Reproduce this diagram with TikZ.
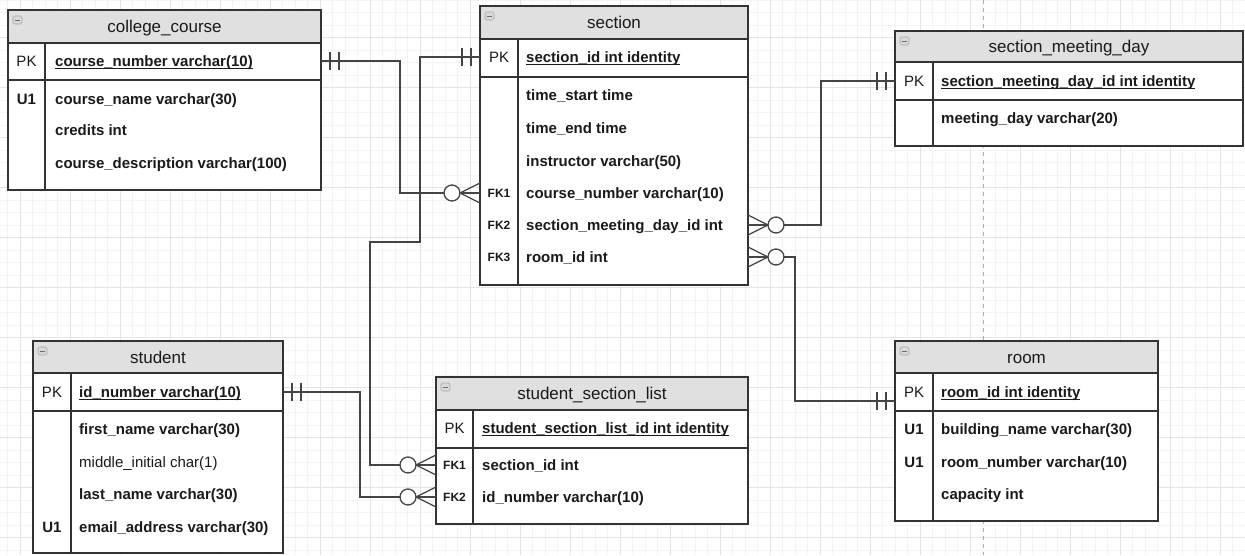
\documentclass[tikz,border=0pt]{standalone}
\usepackage{fontspec}
\setmainfont{Liberation Sans}
\usetikzlibrary{fit}
\definecolor{hdrc}{HTML}{E0E0E0}
\definecolor{linec}{HTML}{333333}
\definecolor{connc}{HTML}{444444}
\definecolor{txtc}{HTML}{1A1A1A}
\definecolor{minorc}{HTML}{F4F4F4}
\definecolor{majorc}{HTML}{E4E4E4}
\definecolor{pagec}{HTML}{B0B0B0}
\newcommand\pkul[1]{\setbox0\hbox{#1}\rlap{\vrule height -1.6pt depth 2.6pt width \wd0}\box0}
\tikzset{
  tline/.style={draw=linec, line width=1.3pt},
  conn/.style={draw=connc, line width=1.3pt},
  tblbg/.style={fill=white, inner sep=0pt, outer sep=0pt},
  ttl/.style={font=\fontsize{17}{20}\selectfont, text=txtc, inner sep=0pt, text height=12pt, text depth=0pt},
  fld/.style={font=\fontsize{15}{18}\selectfont\bfseries, text=txtc, anchor=west, inner sep=0pt, text height=11pt, text depth=0pt},
  fldr/.style={fld, font=\fontsize{15}{18}\selectfont},
  keyl/.style={font=\fontsize{15}{18}\selectfont, text=txtc, inner sep=0pt, text height=11pt, text depth=0pt},
  keyb/.style={keyl, font=\fontsize{15}{18}\selectfont\bfseries},
  keyf/.style={keyl, font=\fontsize{12}{14}\selectfont\bfseries, text height=8.6pt},
  iconbox/.style={draw=gray!70, fill=gray!30, rounded corners=1.5pt, line width=0.6pt},
}
% name, x1, y1, x2, y2, header bottom, pk bottom, divider x, title
\newcommand\ertable[9]{%
  \node[tblbg, fit={(#2,#3) (#4,#5)}] (#1) {};
  \fill[hdrc] (#2,#3) rectangle (#4,#6);
  \draw[tline] (#2,#6) -- (#4,#6) (#2,#7) -- (#4,#7) (#8,#6) -- (#8,#5);
  \draw[tline] (#1.north west) rectangle (#1.south east);
  \node[ttl] (#1-title) at ({(#2+#4)/2},{(#3+#6)/2}) {#9};
  \draw[iconbox] (#2+5,#3+6) rectangle (#2+14,#3+14);
  \draw[gray!85!black, line width=0.8pt] (#2+7,#3+10) -- (#2+12,#3+10);
}
\newcommand\onebars[2]{%
  \begin{scope}[shift={(#1)}, xscale=#2]
    \draw[conn] (9,-9) -- (9,9) (18,-9) -- (18,9);
  \end{scope}}
\newcommand\crowfoot[2]{%
  \begin{scope}[shift={(#1)}, xscale=#2]
    \draw[conn] (0,-10) -- (20,0) -- (0,10);
    \draw[conn, fill=white] (28,0) circle[radius=8pt];
  \end{scope}}
\begin{document}
\begin{tikzpicture}[x=1pt, y=-1pt]
\useasboundingbox (0,0) rectangle (1245,555);
\fill[white] (0,0) rectangle (1245,555);
% grid
\foreach \i in {0,...,99} {\draw[minorc, line width=0.6pt] ({7.5+12.5*\i},0) -- ++(0,555);}
\foreach \j in {0,...,44} {\draw[minorc, line width=0.6pt] (0,{12.5*\j}) -- ++(1245,0);}
\foreach \i in {0,...,24} {\draw[majorc, line width=0.7pt] ({20+50*\i},0) -- ++(0,555);}
\foreach \j in {0,...,10} {\draw[majorc, line width=0.7pt] (0,{37.5+50*\j}) -- ++(1245,0);}
\draw[pagec, line width=0.8pt, dash pattern=on 4pt off 4pt] (983,0) -- (983,555);

% college_course
\ertable{cc}{8}{10}{321}{190}{43}{80}{45}{college\_course}
\node[keyl] (cc-k1) at (26.5,61) {PK};
\node[fld] (ccpk) at (55,61) {\pkul{course\_number varchar(10)}};
\node[keyb] (cc-k2) at (26.5,99) {U1};
\node[fld] (cc-f1) at (55,99) {course\_name varchar(30)};
\node[fld] (cc-f2) at (55,130) {credits int};
\node[fld] (cc-f3) at (55,163) {course\_description varchar(100)};

% section
\ertable{sec}{480}{6}{748}{285}{39}{77}{518}{section}
\node[keyl] (sec-k0) at (499,57) {PK};
\node[fld] (secpk) at (526,57) {\pkul{section\_id int identity}};
\node[fld] (sec-f1) at (526,95) {time\_start time};
\node[fld] (sec-f2) at (526,128) {time\_end time};
\node[fld] (sec-f3) at (526,161) {instructor varchar(50)};
\node[keyf] (sec-k1) at (499,193) {FK1};
\node[fld] (secfk1) at (526,193) {course\_number varchar(10)};
\node[keyf] (sec-k2) at (499,225) {FK2};
\node[fld] (secfk2) at (526,225) {section\_meeting\_day\_id int};
\node[keyf] (sec-k3) at (499,257) {FK3};
\node[fld] (secfk3) at (526,257) {room\_id int};

% section_meeting_day
\ertable{smd}{895}{31}{1243}{146}{62}{100}{933}{section\_meeting\_day}
\node[keyl] (smd-k0) at (914,81) {PK};
\node[fld] (smdpk) at (941,81) {\pkul{section\_meeting\_day\_id int identity}};
\node[fld] (smd-f1) at (941,118) {meeting\_day varchar(20)};

% student
\ertable{st}{33}{341}{283}{553}{373}{411}{71}{student}
\node[keyl] (st-k0) at (52,392) {PK};
\node[fld] (stpk) at (79,392) {\pkul{id\_number varchar(10)}};
\node[fld] (st-f1) at (79,429) {first\_name varchar(30)};
\node[fldr] (st-f2) at (79,462) {middle\_initial char(1)};
\node[fld] (st-f3) at (79,494) {last\_name varchar(30)};
\node[keyb] (st-k1) at (52,527) {U1};
\node[fld] (st-f4) at (79,527) {email\_address varchar(30)};

% student_section_list
\ertable{ssl}{436}{377}{748}{524}{410}{448}{473}{student\_section\_list}
\node[keyl] (ssl-k0) at (454.5,428) {PK};
\node[fld] (sslpk) at (482,428) {\pkul{student\_section\_list\_id int identity}};
\node[keyf] (ssl-k1) at (454.5,465) {FK1};
\node[fld] (sslfk1) at (482,465) {section\_id int};
\node[keyf] (ssl-k2) at (454.5,497) {FK2};
\node[fld] (sslfk2) at (482,497) {id\_number varchar(10)};

% room
\ertable{room}{895}{341}{1158}{521}{373}{411}{933}{room}
\node[keyl] (room-k0) at (914,392) {PK};
\node[fld] (roompk) at (941,392) {\pkul{room\_id int identity}};
\node[keyb] (room-k1) at (914,429) {U1};
\node[fld] (room-f1) at (941,429) {building\_name varchar(30)};
\node[keyb] (room-k2) at (914,462) {U1};
\node[fld] (room-f2) at (941,462) {room\_number varchar(10)};
\node[fld] (room-f3) at (941,494) {capacity int};
\coordinate (roomin) at (895,401);

% connectors
\draw[conn] (cc.east |- ccpk) -- ++(79,0) |- (sec.west |- secfk1);
\onebars{cc.east |- ccpk}{1}
\crowfoot{sec.west |- secfk1}{-1}

\draw[conn] (sec.west |- secpk) -- ++(-60,0) -- ++(0,185) -- ++(-50,0) |- (ssl.west |- sslfk1);
\onebars{sec.west |- secpk}{-1}
\crowfoot{ssl.west |- sslfk1}{-1}

\draw[conn] (st.east |- stpk) -- ++(77,0) |- (ssl.west |- sslfk2);
\onebars{st.east |- stpk}{1}
\crowfoot{ssl.west |- sslfk2}{-1}

\draw[conn] (sec.east |- secfk2) -- ++(73,0) |- (smd.west |- smdpk);
\crowfoot{sec.east |- secfk2}{1}
\onebars{smd.west |- smdpk}{-1}

\draw[conn] (sec.east |- secfk3) -- ++(47,0) |- (roomin);
\crowfoot{sec.east |- secfk3}{1}
\onebars{roomin}{-1}
\end{tikzpicture}
\end{document}
